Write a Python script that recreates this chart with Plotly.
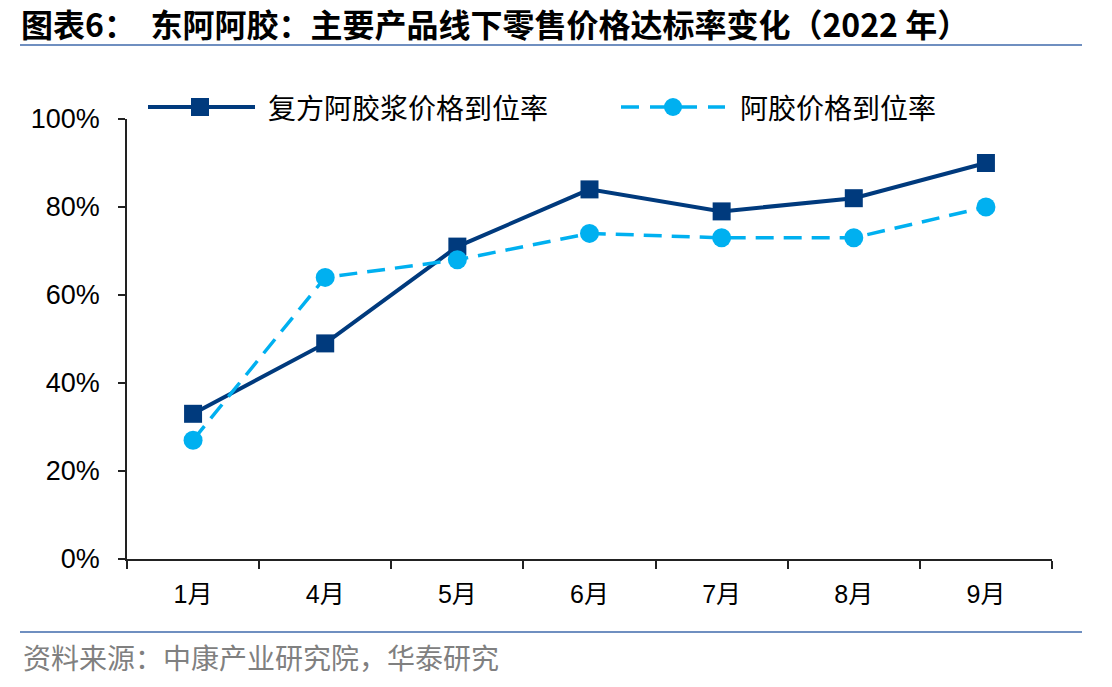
import plotly.graph_objects as go

months = ["1月", "4月", "5月", "6月", "7月", "8月", "9月"]
fufang = [33, 49, 71, 84, 79, 82, 90]
ejiao = [27, 64, 68, 74, 73, 73, 80]
series_names = ["复方阿胶浆价格到位率", "阿胶价格到位率"]
y_ticks = [0, 20, 40, 60, 80, 100]

W, H = 1112, 687
L, R, T, B = 127, 60, 119, 128
PW, PH = W - L - R, H - T - B

def px(x):
    return (x - L) / PW

def py(y):
    return (H - B - y) / PH

DARK = "#003A7D"
LIGHT = "#00B0F0"
RULE = "#6F8FC0"
FONT = "Liberation Sans, Noto Sans CJK SC, sans-serif"
CJK = "Noto Sans CJK SC, sans-serif"

fig = go.Figure()
fig.add_trace(go.Scatter(
    x=months, y=fufang, name=series_names[0], mode="lines+markers",
    line=dict(color=DARK, width=4),
    marker=dict(symbol="square", size=18, color=DARK),
))
fig.add_trace(go.Scatter(
    x=months, y=ejiao, name=series_names[1], mode="lines+markers",
    line=dict(color=LIGHT, width=3.5, dash="18px,10px"),
    marker=dict(symbol="circle", size=19, color=LIGHT),
))

shapes = [
    dict(type="line", xref="paper", yref="paper", x0=px(20), x1=px(1082), y0=py(45), y1=py(45),
         line=dict(color=RULE, width=2)),
    dict(type="line", xref="paper", yref="paper", x0=px(20), x1=px(1082), y0=py(632), y1=py(632),
         line=dict(color=RULE, width=2)),
    # legend samples
    dict(type="line", xref="paper", yref="paper", x0=px(148), x1=px(255), y0=py(107), y1=py(107),
         line=dict(color=DARK, width=4)),
    dict(type="rect", xref="paper", yref="paper", x0=px(191), x1=px(209), y0=py(98), y1=py(116),
         fillcolor=DARK, line=dict(width=0)),
    dict(type="line", xref="paper", yref="paper", x0=px(621), x1=px(725), y0=py(107), y1=py(107),
         line=dict(color=LIGHT, width=3.5, dash="18px,11px")),
    dict(type="circle", xref="paper", yref="paper", x0=px(664), x1=px(682), y0=py(98), y1=py(116),
         fillcolor=LIGHT, line=dict(width=0)),
]

annotations = [
    dict(text="<b>图表6：  东阿阿胶：主要产品线下零售价格达标率变化（2022 年）</b>",
         xref="paper", yref="paper", x=px(19), y=py(23), xanchor="left", yanchor="middle",
         showarrow=False, font=dict(family=CJK, size=32, color="#000000")),
    dict(text="资料来源：中康产业研究院，华泰研究",
         xref="paper", yref="paper", x=px(21), y=py(657), xanchor="left", yanchor="middle",
         showarrow=False, font=dict(family=CJK, size=28, color="#808080")),
    dict(text=series_names[0], xref="paper", yref="paper", x=px(266), y=py(107),
         xanchor="left", yanchor="middle", showarrow=False,
         font=dict(family=CJK, size=28, color="#000000")),
    dict(text=series_names[1], xref="paper", yref="paper", x=px(738), y=py(107),
         xanchor="left", yanchor="middle", showarrow=False,
         font=dict(family=CJK, size=28, color="#000000")),
]

fig.update_layout(
    width=W, height=H,
    margin=dict(l=L, r=R, t=T, b=B),
    paper_bgcolor="white", plot_bgcolor="white",
    showlegend=False,
    shapes=shapes, annotations=annotations,
    font=dict(family=FONT, color="#000000"),
)
fig.update_xaxes(
    type="category", categoryorder="array", categoryarray=months,
    range=[-0.5, len(months) - 0.5],
    showline=True, linecolor="#222222", linewidth=1.5,
    ticks="outside", tickson="boundaries", ticklen=8, tickcolor="#222222", tickwidth=1.5,
    showgrid=False, zeroline=False,
    tickfont=dict(family=FONT, size=25, color="#000000"),
    ticklabelstandoff=12,
)
fig.update_yaxes(
    range=[0, 100], tickvals=y_ticks, ticktext=[f"{v}%" for v in y_ticks],
    showline=True, linecolor="#222222", linewidth=1.5,
    ticks="outside", ticklen=7, tickcolor="#222222", tickwidth=1.5,
    showgrid=False, zeroline=False,
    tickfont=dict(family=FONT, size=27, color="#000000"),
    ticklabelstandoff=13,
)

fig.write_html("out.html")
